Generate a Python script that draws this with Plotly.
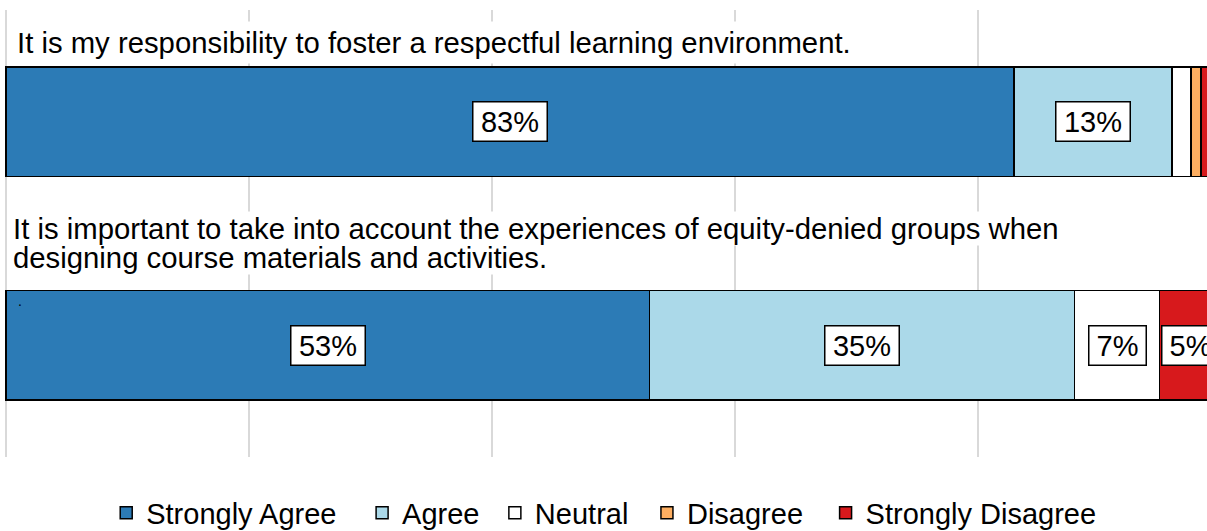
import plotly.graph_objects as go

# survey data (percent of respondents)
questions = ["q1", "q2"]
title_q1 = "It is my responsibility to foster a respectful learning environment."
title_q2_lines = ["It is important to take into account the experiences of equity-denied groups when",
                  "designing course materials and activities."]
categories = ["Strongly Agree", "Agree", "Neutral", "Disagree", "Strongly Disagree"]
colors = ["#2C7BB6", "#ABD9E9", "#FFFFFF", "#FDAE61", "#D7191C"]
q1_vals = [83, 13, 1.6, 0.8, 1.6]
q2_vals = [53, 35, 7, 0, 5]

FONT = "Liberation Sans, Arial, sans-serif"
FS = 29
FS_TITLE = 29.3

# left edge of each legend entry (container fraction)
legend_x = [0.088, 0.300, 0.410, 0.536, 0.684]


def label_width(s):
    # rough Arial advance widths, used only to size the white label boxes
    em = sum(0.889 if c == "%" else 0.556 for c in s)
    return int(em * FS) + 9


fig = go.Figure()
for i, cat in enumerate(categories):
    fig.add_trace(go.Bar(
        y=questions, x=[q1_vals[i], q2_vals[i]], name=cat, orientation="h",
        marker=dict(color=colors[i], line=dict(color="black", width=1.5)),
        width=0.49, hoverinfo="x+name",
        legend="legend" if i == 0 else f"legend{i + 1}",
    ))

# value labels in white boxes
for q, vals in zip(questions, [q1_vals, q2_vals]):
    left = 0
    for v in vals:
        if v >= 3:
            txt = f"{round(v)}%"
            fig.add_annotation(x=left + v / 2, y=q, xref="x", yref="y",
                               text=txt, showarrow=False, width=label_width(txt),
                               font=dict(size=FS, color="black", family=FONT),
                               bgcolor="white", bordercolor="black", borderwidth=1.5,
                               borderpad=3)
        left += v

# question titles (white background hides the gridlines behind them)
fig.add_annotation(x=0.0055, y=0.928, xref="paper", yref="paper", xanchor="left", yanchor="middle",
                   text=title_q1, showarrow=False, bgcolor="white", borderpad=4,
                   font=dict(size=FS_TITLE, color="black", family=FONT))
# second line first so the first line is drawn on top of its box
for line, yy in reversed(list(zip(title_q2_lines, [0.512, 0.447]))):
    fig.add_annotation(x=0.0055, y=yy, xref="paper", yref="paper", xanchor="left", yanchor="middle",
                       text=line, showarrow=False, bgcolor="white", borderpad=0,
                       font=dict(size=FS_TITLE, color="black", family=FONT))
fig.add_annotation(x=0.0095, y=0.349, xref="paper", yref="paper", text=".", showarrow=False,
                   font=dict(size=14, color="black", family=FONT))

legends = {}
for i, lx in enumerate(legend_x):
    key = "legend" if i == 0 else f"legend{i + 1}"
    legends[key] = dict(orientation="h", x=lx, xanchor="left", xref="container",
                        y=0.034, yanchor="middle", yref="container", bgcolor="rgba(0,0,0,0)",
                        font=dict(size=FS, family=FONT), itemwidth=30)

fig.update_layout(
    width=1207, height=531,
    barmode="stack", bargap=0.51,
    margin=dict(l=5, r=0, t=10, b=74),
    plot_bgcolor="white", paper_bgcolor="white",
    font=dict(family=FONT, size=FS, color="black"),
    xaxis=dict(range=[-0.1, 98.9], dtick=20, showgrid=True, gridcolor="#d9d9d9", gridwidth=1.5,
               showticklabels=False, zeroline=True, zerolinecolor="#d9d9d9", zerolinewidth=1.5,
               showline=False),
    yaxis=dict(range=[1.5, -0.5], showticklabels=False, showgrid=False, zeroline=False,
               categoryorder="array", categoryarray=questions),
    showlegend=True,
    **legends,
)

fig.write_html("out.html", config={"displayModeBar": False},
               post_script="document.body.style.margin='0';")
